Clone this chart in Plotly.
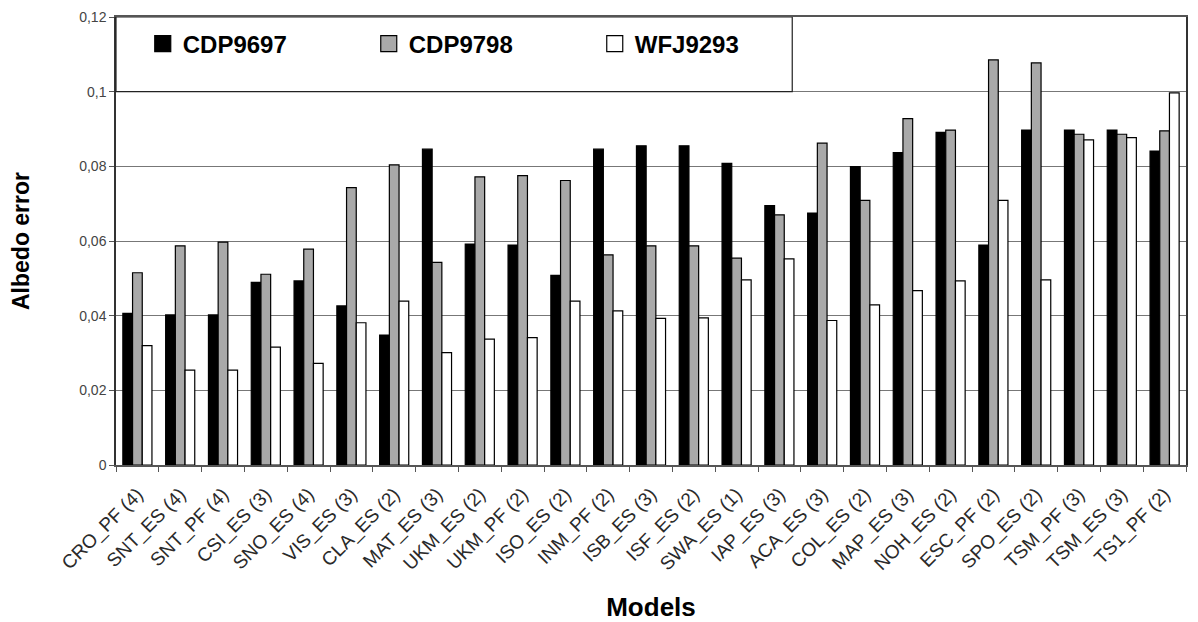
import plotly.graph_objects as go

models = ["CRO_PF (4)", "SNT_ES (4)", "SNT_PF (4)", "CSI_ES (3)", "SNO_ES (4)", "VIS_ES (3)",
          "CLA_ES (2)", "MAT_ES (3)", "UKM_ES (2)", "UKM_PF (2)", "ISO_ES (2)", "INM_PF (2)",
          "ISB_ES (3)", "ISF_ES (2)", "SWA_ES (1)", "IAP_ES (3)", "ACA_ES (3)", "COL_ES (2)",
          "MAP_ES (3)", "NOH_ES (2)", "ESC_PF (2)", "SPO_ES (2)", "TSM_PF (3)", "TSM_ES (3)",
          "TS1_PF (2)"]

cdp9697 = [0.0406, 0.0402, 0.0402, 0.0489, 0.0493, 0.0426, 0.0348, 0.0846, 0.0592, 0.0589,
           0.0508, 0.0846, 0.0855, 0.0855, 0.0808, 0.0695, 0.0675, 0.0799, 0.0837, 0.0891,
           0.0589, 0.0897, 0.0897, 0.0897, 0.0841]
cdp9798 = [0.0515, 0.0587, 0.0597, 0.0511, 0.0578, 0.0743, 0.0804, 0.0543, 0.0772, 0.0775,
           0.0762, 0.0563, 0.0587, 0.0587, 0.0554, 0.0670, 0.0862, 0.0709, 0.0928, 0.0897,
           0.1085, 0.1077, 0.0886, 0.0886, 0.0895]
wfj9293 = [0.0320, 0.0254, 0.0254, 0.0316, 0.0272, 0.0381, 0.0439, 0.0301, 0.0337, 0.0341,
           0.0439, 0.0413, 0.0393, 0.0394, 0.0496, 0.0552, 0.0387, 0.0429, 0.0467, 0.0493,
           0.0709, 0.0496, 0.0871, 0.0877, 0.0997]

y_ticks = [0, 0.02, 0.04, 0.06, 0.08, 0.1, 0.12]
y_tick_labels = ["0", "0,02", "0,04", "0,06", "0,08", "0,1", "0,12"]

series = [("CDP9697", cdp9697, "#000000"),
          ("CDP9798", cdp9798, "#a9a9a9"),
          ("WFJ9293", wfj9293, "#ffffff")]

FONT = "Arial, Liberation Sans, sans-serif"

fig = go.Figure()
for name, vals, color in series:
    fig.add_trace(go.Bar(
        x=models, y=vals, name=name, legendgroup=name, showlegend=False,
        marker=dict(color=color, line=dict(color="#000000", width=1.2)),
    ))
# legend entries with larger square keys
for name, vals, color in series:
    fig.add_trace(go.Scatter(
        x=[None], y=[None], mode="markers", name=name, legendgroup=name,
        marker=dict(symbol="square", size=16, color=color,
                    line=dict(color="#000000", width=1.2)),
    ))

# legend box (upper band of plot area)
fig.add_shape(type="rect", xref="x domain", yref="y",
              x0=0, x1=0.632, y0=0.1, y1=0.12,
              line=dict(color="#222222", width=1.2), fillcolor="rgba(0,0,0,0)",
              layer="above")

fig.update_layout(
    width=1190, height=614,
    margin=dict(l=108, r=12, t=9, b=157, autoexpand=False),
    paper_bgcolor="white", plot_bgcolor="white",
    barmode="group", bargap=0.32, bargroupgap=0.0,
    font=dict(family=FONT, color="#222222"),
    showlegend=True,
    legend=dict(orientation="h", x=0.025, y=0.99, xanchor="left", yanchor="top",
                bgcolor="rgba(0,0,0,0)", borderwidth=0, itemsizing="trace",
                font=dict(size=24, family=FONT, color="#000000", weight="bold"),
                entrywidth=181, entrywidthmode="pixels", itemwidth=30,
                traceorder="normal"),
    xaxis=dict(
        type="category", tickangle=-45, automargin=False,
        tickfont=dict(size=19, color="#2a2a2a"), ticklabelstandoff=9,
        ticks="outside", tickson="boundaries", ticklen=5, tickcolor="#555555",
        showline=True, linecolor="#555555", linewidth=1.5, mirror=True,
        showgrid=False,
        title=dict(text="<b>Models</b>", font=dict(size=26, color="#000000"), standoff=24),
    ),
    yaxis=dict(
        range=[0, 0.12], tickvals=y_ticks, ticktext=y_tick_labels, automargin=False,
        tickfont=dict(size=14, color="#444444"),
        ticks="outside", ticklen=5, tickcolor="#555555",
        showline=True, linecolor="#333333", linewidth=1.5, mirror=True,
        showgrid=True, gridcolor="#777777", gridwidth=1.2,
        zeroline=False,
        title=dict(text="<b>Albedo error</b>", font=dict(size=23, color="#000000"), standoff=43),
    ),
)

fig.write_html("out.html")
